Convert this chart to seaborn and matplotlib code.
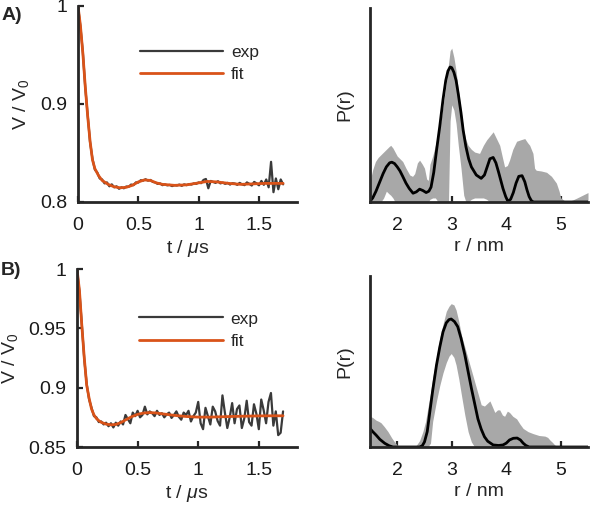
import numpy as np
import matplotlib
matplotlib.use("Agg")
import matplotlib.pyplot as plt
import seaborn as sns

sns.set_style("ticks")
plt.rcParams['font.family'] = ['Liberation Sans', 'DejaVu Sans']
plt.rcParams['mathtext.fontset'] = 'custom'
plt.rcParams['mathtext.rm'] = 'Liberation Sans'
plt.rcParams['mathtext.it'] = 'Liberation Sans:italic'

# ---------------- data: time traces ----------------
t_exp = np.round(np.arange(0, 1.701, 0.02), 2)

exp_a = [1.000, 0.979, 0.953, 0.917, 0.889, 0.861, 0.844, 0.833, 0.830, 0.824,
         0.823, 0.819, 0.820, 0.816, 0.818,
         0.8150, 0.8160, 0.8135, 0.8150, 0.8140, 0.8158, 0.8155, 0.8178, 0.8172, 0.8200,
         0.8198, 0.8222, 0.8218, 0.8232, 0.8218, 0.8225, 0.8205, 0.8200, 0.8185, 0.8190,
         0.8172, 0.8180, 0.8170, 0.8175, 0.8162, 0.8172, 0.8168, 0.8178, 0.8165, 0.8180,
         0.8172, 0.8182, 0.8178, 0.8190, 0.8185, 0.8200, 0.8192, 0.8225, 0.8235, 0.8140,
         0.8215, 0.8205, 0.8195, 0.8212, 0.8190, 0.8198, 0.8185, 0.8195, 0.8178, 0.8192,
         0.8188, 0.8175, 0.8195, 0.8180, 0.8172, 0.8200, 0.8185, 0.8168, 0.8205, 0.8190,
         0.8170, 0.8215, 0.8175, 0.8230, 0.8150, 0.8410, 0.8100, 0.8240, 0.8130, 0.8230,
         0.8180]

exp_b = [1.000, 0.981, 0.953, 0.924, 0.903, 0.890, 0.883, 0.876, 0.875, 0.871,
         0.8715, 0.8690, 0.8705, 0.8675, 0.8700, 0.8665, 0.8705, 0.8680,
         0.8715, 0.8690, 0.8770, 0.8735, 0.8700, 0.8790, 0.8760, 0.8805, 0.8750, 0.8770,
         0.8840, 0.8775, 0.8800, 0.8785, 0.8760, 0.8805, 0.8770, 0.8785, 0.8750, 0.8775,
         0.8790, 0.8745, 0.8770, 0.8800, 0.8755, 0.8730, 0.8790, 0.8770, 0.8805, 0.8715,
         0.8760, 0.8790, 0.8880, 0.8700, 0.8650, 0.8830, 0.8760, 0.8690, 0.8840, 0.8800,
         0.8720, 0.8680, 0.8935, 0.8790, 0.8660, 0.8750, 0.8870, 0.8700, 0.8820, 0.8850,
         0.8660, 0.8740, 0.8890, 0.8710, 0.8680, 0.8860, 0.8780, 0.8650, 0.8900, 0.8810,
         0.8700, 0.8880, 0.8955, 0.8680, 0.8800, 0.8600, 0.8620, 0.8800]

t_fit_a = [0.00, 0.02, 0.04, 0.06, 0.08, 0.10, 0.12, 0.14, 0.17, 0.20, 0.25, 0.30,
           0.35, 0.40, 0.45, 0.50, 0.55, 0.60, 0.65, 0.70, 0.80, 0.90, 1.00, 1.07,
           1.15, 1.25, 1.35, 1.45, 1.55, 1.70]
fit_a = [1.000, 0.980, 0.952, 0.918, 0.888, 0.862, 0.843, 0.834, 0.827, 0.822,
         0.818, 0.8155, 0.8145, 0.815, 0.817, 0.8205, 0.8225, 0.822, 0.8195, 0.818,
         0.817, 0.8175, 0.8195, 0.821, 0.8205, 0.819, 0.818, 0.8185, 0.819, 0.819]

t_fit_b = [0.00, 0.02, 0.04, 0.06, 0.08, 0.10, 0.12, 0.14, 0.16, 0.18, 0.20, 0.24,
           0.28, 0.32, 0.36, 0.40, 0.45, 0.50, 0.55, 0.60, 0.65, 0.70, 0.80, 0.90,
           1.00, 1.10, 1.20, 1.30, 1.40, 1.50, 1.60, 1.70]
fit_b = [1.000, 0.982, 0.952, 0.925, 0.902, 0.891, 0.882, 0.877, 0.874, 0.8722,
         0.8708, 0.8693, 0.8687, 0.869, 0.8705, 0.8728, 0.8755, 0.8775, 0.8786, 0.879,
         0.8787, 0.878, 0.8767, 0.8757, 0.8752, 0.8752, 0.8755, 0.8758, 0.876, 0.8762,
         0.8763, 0.8763]

# ---------------- data: distance distributions ----------------
r_band_a = [1.50, 1.55, 1.60, 1.65, 1.70, 1.75, 1.80, 1.85, 1.88, 1.92, 1.96, 2.00,
            2.05, 2.10, 2.16, 2.23, 2.28, 2.32, 2.37, 2.41, 2.46, 2.50, 2.54, 2.57,
            2.60, 2.65, 2.70, 2.75, 2.80, 2.85, 2.90, 2.94, 2.97, 3.00, 3.04, 3.08,
            3.12, 3.17, 3.22, 3.26, 3.30, 3.36, 3.42, 3.51, 3.58, 3.64, 3.70, 3.76,
            3.82, 3.88, 3.93, 3.97, 4.02, 4.06, 4.12, 4.19, 4.26, 4.34, 4.39, 4.43,
            4.49, 4.52, 4.55, 4.64, 4.74, 4.83, 4.92, 4.97, 5.00, 5.10, 5.22, 5.30,
            5.40, 5.50]
upper_a = [0.15, 0.24, 0.30, 0.33, 0.35, 0.37, 0.39, 0.41, 0.42, 0.40, 0.37, 0.34,
           0.32, 0.30, 0.25, 0.20, 0.19, 0.21, 0.29, 0.31, 0.28, 0.25, 0.17, 0.16,
           0.28, 0.34, 0.42, 0.51, 0.60, 0.74, 0.88, 1.02, 1.12, 1.14, 1.07, 0.97,
           0.83, 0.68, 0.53, 0.46, 0.42, 0.39, 0.37, 0.36, 0.42, 0.46, 0.49, 0.52,
           0.47, 0.42, 0.33, 0.26, 0.27, 0.31, 0.39, 0.45, 0.46, 0.47, 0.44, 0.42,
           0.36, 0.25, 0.235, 0.23, 0.22, 0.19, 0.14, 0.08, 0.03, 0.0, 0.015, 0.03,
           0.05, 0.07]
lower_a = [0.0, 0.0, 0.0, 0.0, 0.0, 0.03, 0.08, 0.06, 0.05, 0.03, 0.0, 0.0,
           0.0, 0.0, 0.0, 0.0, 0.0, 0.0, 0.0, 0.0, 0.0, 0.0, 0.0, 0.0,
           0.02, 0.03, 0.03, 0.0, 0.0, 0.0, 0.0, 0.0, 0.60, 0.72, 0.68, 0.58,
           0.42, 0.25, 0.05, 0.0, 0.0, 0.02, 0.03, 0.03, 0.03, 0.02, 0.0, 0.0,
           0.0, 0.0, 0.0, 0.0, 0.0, 0.0, 0.0, 0.0, 0.0, 0.0, 0.0, 0.0,
           0.0, 0.0, 0.0, 0.0, 0.0, 0.0, 0.0, 0.0, 0.0, 0.0, 0.0, 0.0,
           0.0, 0.0]

r_pr_a = [1.49, 1.55, 1.61, 1.68, 1.74, 1.80, 1.86, 1.90, 1.95, 2.00, 2.05, 2.10,
          2.16, 2.22, 2.29, 2.35, 2.41, 2.47, 2.53, 2.58, 2.62, 2.67, 2.72, 2.78,
          2.84, 2.89, 2.93, 2.97, 3.00, 3.04, 3.08, 3.12, 3.17, 3.21, 3.26, 3.31,
          3.36, 3.45, 3.54, 3.60, 3.65, 3.70, 3.76, 3.81, 3.86, 3.90, 3.94, 3.99,
          4.03, 4.08, 4.13, 4.18, 4.23, 4.29, 4.34, 4.38, 4.42, 4.46, 4.50, 5.50]
pr_a = [0.0, 0.03, 0.08, 0.15, 0.21, 0.26, 0.29, 0.295, 0.285, 0.26, 0.23, 0.19,
        0.14, 0.10, 0.065, 0.075, 0.095, 0.085, 0.07, 0.08, 0.11, 0.22, 0.38, 0.56,
        0.76, 0.90, 0.97, 1.0, 0.995, 0.96, 0.90, 0.80, 0.66, 0.53, 0.41, 0.32,
        0.26, 0.20, 0.175, 0.20, 0.26, 0.32, 0.33, 0.29, 0.22, 0.16, 0.10, 0.04,
        0.005, 0.02, 0.07, 0.14, 0.19, 0.195, 0.15, 0.09, 0.04, 0.01, 0.0, 0.0]

r_band_b = [1.50, 1.55, 1.61, 1.66, 1.70, 1.76, 1.83, 1.90, 1.95, 2.00, 2.05, 2.20,
            2.35, 2.41, 2.47, 2.52, 2.56, 2.61, 2.65, 2.72, 2.78, 2.84, 2.90, 2.95,
            2.99, 3.04, 3.08, 3.13, 3.18, 3.24, 3.30, 3.36, 3.42, 3.48, 3.54, 3.60,
            3.65, 3.70, 3.75, 3.79, 3.84, 3.88, 3.93, 3.97, 4.02, 4.06, 4.12, 4.19,
            4.25, 4.31, 4.40, 4.49, 4.60, 4.71, 4.76, 4.80, 4.85, 4.89, 4.95, 5.50]
upper_b = [0.24, 0.23, 0.21, 0.20, 0.19, 0.16, 0.12, 0.07, 0.04, 0.015, 0.0, 0.0,
           0.013, 0.05, 0.12, 0.20, 0.30, 0.42, 0.54, 0.70, 0.85, 0.96, 1.06, 1.10,
           1.12, 1.11, 1.07, 0.98, 0.87, 0.78, 0.69, 0.60, 0.51, 0.42, 0.33, 0.32,
           0.34, 0.36, 0.31, 0.27, 0.29, 0.29, 0.25, 0.24, 0.28, 0.27, 0.24, 0.22,
           0.18, 0.145, 0.12, 0.105, 0.09, 0.085, 0.075, 0.055, 0.035, 0.016, 0.0, 0.0]
lower_b = [0.0, 0.0, 0.0, 0.0, 0.0, 0.0, 0.0, 0.0, 0.0, 0.0, 0.0, 0.0,
           0.0, 0.0, 0.0, 0.0, 0.0, 0.03, 0.20, 0.36, 0.48, 0.58, 0.66, 0.71,
           0.73, 0.70, 0.64, 0.53, 0.40, 0.25, 0.12, 0.04, 0.0, 0.0, 0.0, 0.0,
           0.0, 0.0, 0.0, 0.0, 0.0, 0.0, 0.0, 0.0, 0.0, 0.0, 0.0, 0.0,
           0.0, 0.0, 0.0, 0.0, 0.0, 0.0, 0.0, 0.0, 0.0, 0.0, 0.0, 0.0]

r_pr_b = [1.49, 1.55, 1.61, 1.68, 1.77, 1.85, 1.92, 2.41, 2.46, 2.50, 2.55, 2.59,
          2.65, 2.72, 2.78, 2.84, 2.90, 2.95, 2.99, 3.05, 3.11, 3.17, 3.24, 3.30,
          3.36, 3.42, 3.48, 3.54, 3.60, 3.66, 3.76, 3.86, 3.94, 4.00, 4.06, 4.13,
          4.20, 4.26, 4.31, 4.36, 4.42, 5.50]
pr_b = [0.15, 0.12, 0.094, 0.06, 0.029, 0.01, 0.0, 0.0, 0.01, 0.04, 0.12, 0.25,
        0.44, 0.64, 0.78, 0.90, 0.97, 0.995, 1.0, 0.98, 0.94, 0.85, 0.72, 0.59,
        0.46, 0.34, 0.22, 0.14, 0.08, 0.045, 0.016, 0.012, 0.016, 0.03, 0.055, 0.068,
        0.07, 0.055, 0.03, 0.012, 0.0, 0.0]

# ---------------- styling ----------------
exp_color = '#3a3a3a'
fit_color = '#D95319'
band_color = '#a8a8a8'
axis_color = '#262626'
fs = 14

fig = plt.figure(figsize=(5.9, 5.11), dpi=100)
W, H = 590, 511


def px_axes(x0, y_top, x1, y_bot):
    return fig.add_axes([x0 / W, 1 - y_bot / H, (x1 - x0) / W, (y_bot - y_top) / H])


def style(ax):
    sns.despine(ax=ax)
    for s in ['left', 'bottom']:
        ax.spines[s].set_linewidth(2.0)
        ax.spines[s].set_color(axis_color)
    ax.tick_params(direction='in', length=4, width=1.6, color=axis_color,
                   labelsize=fs, labelcolor='#1a1a1a')
    ax.tick_params(axis='x', pad=11)
    ax.tick_params(axis='y', pad=8)


def trace_panel(ax, exp_y, t_fit, fit_y, ylim, yticks, yticklabels, leg_y):
    sns.lineplot(x=t_exp, y=exp_y, ax=ax, color=exp_color, lw=1.6, label='exp')
    sns.lineplot(x=t_fit, y=fit_y, ax=ax, color=fit_color, lw=2.0, label='fit')
    ax.set_xlim(0, 1.815)
    ax.set_ylim(*ylim)
    ax.set_xticks([0, 0.5, 1, 1.5])
    ax.set_xticklabels(['0', '0.5', '1', '1.5'])
    ax.set_yticks(yticks)
    ax.set_yticklabels(yticklabels)
    ax.set_xlabel(r't / $\mu$s', fontsize=fs, labelpad=3)
    ax.set_ylabel(r'V / V$_0$', fontsize=fs, labelpad=6)
    style(ax)
    ax.legend(loc='upper left', bbox_to_anchor=(0.283, leg_y), frameon=False,
              fontsize=12.5, handlelength=4.8, handletextpad=0.45,
              labelspacing=0.4, borderpad=0, borderaxespad=0)


def pr_panel(ax, r_band, lower, upper, r_pr, pr, ytop):
    ax.fill_between(r_band, lower, upper, color=band_color, lw=0)
    sns.lineplot(x=r_pr, y=pr, ax=ax, color='black', lw=2.0)
    ax.set_xlim(1.5, 5.5)
    ax.set_ylim(0, ytop)
    ax.set_xticks([2, 3, 4, 5])
    ax.set_yticks([])
    ax.set_xlabel('r / nm', fontsize=fs, labelpad=3)
    ax.set_ylabel('P(r)', fontsize=fs, labelpad=12)
    style(ax)


ax1 = px_axes(78, 6, 297, 202)
trace_panel(ax1, exp_a, t_fit_a, fit_a, (0.8, 1.0), [0.8, 0.9, 1.0],
            ['0.8', '0.9', '1'], 0.80)

ax2 = px_axes(370, 8, 588, 202)
pr_panel(ax2, r_band_a, lower_a, upper_a, r_pr_a, pr_a, 1.437)

ax3 = px_axes(77, 269, 297, 447)
trace_panel(ax3, exp_b, t_fit_b, fit_b, (0.85, 1.0), [0.85, 0.9, 0.95, 1.0],
            ['0.85', '0.9', '0.95', '1'], 0.762)

ax4 = px_axes(370, 276, 588, 447)
pr_panel(ax4, r_band_b, lower_b, upper_b, r_pr_b, pr_b, 1.336)

fig.text(0.002, 1 - 7 / H, 'A)', fontsize=fs, fontweight='bold', va='top', ha='left')
fig.text(0.002, 1 - 262 / H, 'B)', fontsize=fs, fontweight='bold', va='top', ha='left')

fig.savefig('out.png', dpi=100)
